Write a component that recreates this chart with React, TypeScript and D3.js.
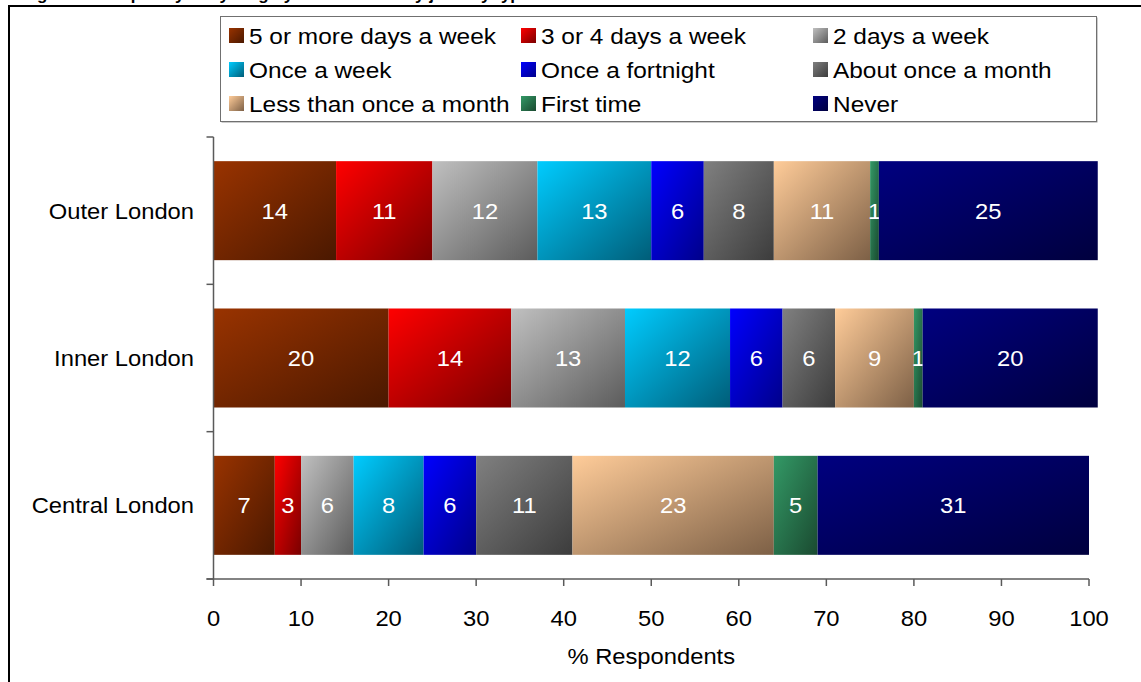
import React from "react";
import * as d3 from "d3";

const categories = ["Outer London", "Inner London", "Central London"];

const seriesNames = [
  "5 or more days a week",
  "3 or 4 days a week",
  "2 days a week",
  "Once a week",
  "Once a fortnight",
  "About once a month",
  "Less than once a month",
  "First time",
  "Never",
];

const fiveOrMore = [14, 20, 7];
const threeOrFour = [11, 14, 3];
const twoDays = [12, 13, 6];
const onceAWeek = [13, 12, 8];
const onceAFortnight = [6, 6, 6];
const aboutOnceAMonth = [8, 6, 11];
const lessThanOnceAMonth = [11, 9, 23];
const firstTime = [1, 1, 5];
const never = [25, 20, 31];

const seriesValues = [
  fiveOrMore,
  threeOrFour,
  twoDays,
  onceAWeek,
  onceAFortnight,
  aboutOnceAMonth,
  lessThanOnceAMonth,
  firstTime,
  never,
];

const seriesColors = [
  ["#993300", "#4a1800"],
  ["#ff0000", "#7a0000"],
  ["#c0c0c0", "#5c5c5c"],
  ["#00ccff", "#005d78"],
  ["#0000ff", "#00008a"],
  ["#808080", "#3c3c3c"],
  ["#ffcc99", "#7d6046"],
  ["#339966", "#1a4a30"],
  ["#000080", "#00003e"],
];

const xTicks = [0, 10, 20, 30, 40, 50, 60, 70, 80, 90, 100];

const W = 1141;
const H = 682;
const FONT = "Liberation Sans, Arial, sans-serif";
const SX = 1.08;
const SXL = 1.11;

export default function App() {
  const x = d3.scaleLinear().domain([0, 100]).range([213.5, 1089]);
  const y = d3
    .scaleBand<string>()
    .domain(categories)
    .range([137, 579])
    .paddingInner(0.328)
    .paddingOuter(0.164);

  const rows = categories.map((c, i) => {
    const r: Record<string, any> = { category: c };
    seriesNames.forEach((s, j) => (r[s] = seriesValues[j][i]));
    return r;
  });
  const stacked = d3.stack<any>().keys(seriesNames)(rows);

  const legendCols = [229, 521, 813];
  const legendRows = [36, 70, 104];

  const axisColor = "#5a5a5a";
  const [x0, x1] = x.range();
  const [y0, y1] = y.range();

  return (
    <svg
      width={W}
      height={H}
      style={{ position: "absolute", left: 0, top: 0, display: "block", background: "#fff" }}
      fontFamily={FONT}
    >
      <defs>
        {seriesColors.map((c, i) => (
          <linearGradient key={i} id={`g${i}`} x1="0" y1="0" x2="1" y2="1">
            <stop offset="0%" stopColor={c[0]} />
            <stop offset="100%" stopColor={c[1]} />
          </linearGradient>
        ))}
      </defs>
      <rect x={0} y={0} width={W} height={H} fill="#fff" />
      {/* clipped title */}
      <text x={22} y={0} fontWeight="bold" fontSize={17} fill="#000">
        Figure 2: Frequency of cycling by London area by journey type
      </text>
      {/* frame */}
      <rect x={9} y={6} width={W + 20} height={H + 20} fill="none" stroke="#000" strokeWidth={2} />

      {/* legend */}
      <rect x={221.5} y={17.5} width={876} height={105} fill="#9a9a9a" />
      <rect x={220.5} y={16.5} width={876} height={105} fill="#fff" stroke="#707070" strokeWidth={1} />
      {seriesNames.map((s, i) => {
        const cx = legendCols[i % 3];
        const cy = legendRows[Math.floor(i / 3)];
        return (
          <g key={s}>
            <rect x={cx} y={cy - 8} width={15} height={15} fill={`url(#g${i})`} />
            <text
              transform={`translate(${cx + 20},${cy + 8}) scale(${SXL},1)`}
              fontSize={22}
              fill="#000"
            >
              {s}
            </text>
          </g>
        );
      })}

      {/* bars */}
      {stacked.map((layer, i) => (
        <g key={layer.key} fill={`url(#g${i})`}>
          {layer.map((d, j) => {
            const bx = x(d[0]);
            const bw = x(d[1]) - x(d[0]);
            const by = y(categories[j])!;
            const bh = y.bandwidth();
            return (
              <g key={j}>
                <rect x={bx} y={by} width={bw} height={bh} />
                <text
                  transform={`translate(${bx + bw / 2},${by + bh / 2 + 8}) scale(${SX},1)`}
                  textAnchor="middle"
                  fontSize={22}
                  fill="#fff"
                >
                  {d[1] - d[0]}
                </text>
              </g>
            );
          })}
        </g>
      ))}

      {/* y axis */}
      <line x1={x0} x2={x0} y1={y0} y2={y1} stroke={axisColor} strokeWidth={1.5} />
      {[0, 1, 2, 3].map((k) => {
        const ty = y0 + k * y.step();
        return <line key={k} x1={x0 - 7} x2={x0} y1={ty} y2={ty} stroke={axisColor} strokeWidth={1.5} />;
      })}
      {categories.map((c) => (
        <text
          key={c}
          transform={`translate(194,${y(c)! + y.bandwidth() / 2 + 8}) scale(${SX},1)`}
          textAnchor="end"
          fontSize={22}
          fill="#000"
        >
          {c}
        </text>
      ))}

      {/* x axis */}
      <line x1={x0 - 7} x2={x1} y1={y1} y2={y1} stroke={axisColor} strokeWidth={1.5} />
      {xTicks.map((t) => (
        <g key={t}>
          <line x1={x(t)} x2={x(t)} y1={y1} y2={y1 + 7} stroke={axisColor} strokeWidth={1.5} />
          <text
            transform={`translate(${x(t)},626) scale(${SX},1)`}
            textAnchor="middle"
            fontSize={22}
            fill="#000"
          >
            {t}
          </text>
        </g>
      ))}
      <text
        transform={`translate(${(x0 + x1) / 2},664) scale(${SX},1)`}
        textAnchor="middle"
        fontSize={22}
        fill="#000"
      >
        % Respondents
      </text>
    </svg>
  );
}
